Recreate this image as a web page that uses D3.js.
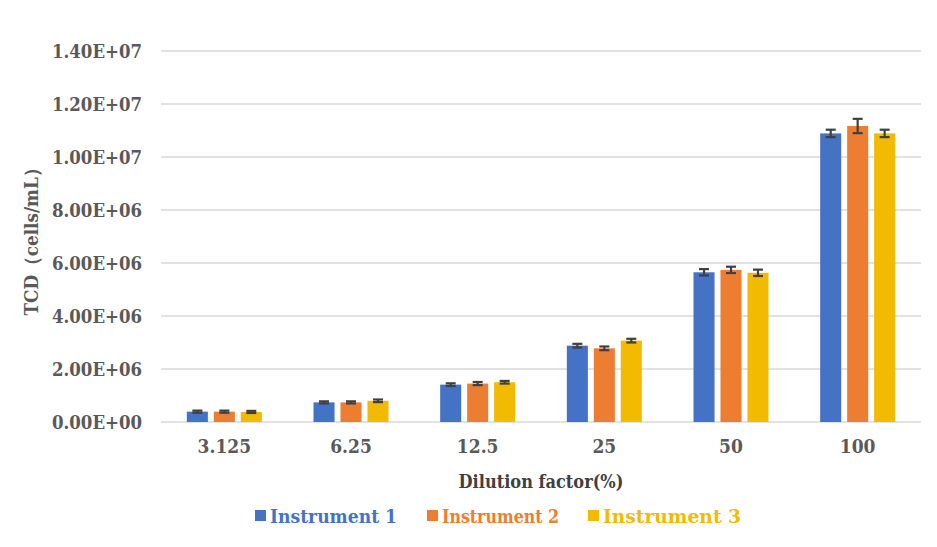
<!DOCTYPE html>
<html>
<head>
<meta charset="utf-8">
<script src="https://cdn.jsdelivr.net/npm/d3@7"></script>
<style>
  body { margin: 0; background: #fff; }
</style>
</head>
<body>
<svg id="chart" width="937" height="547"></svg>
<script>
const categories = ["3.125", "6.25", "12.5", "25", "50", "100"]
const seriesNames = ["Instrument 1", "Instrument 2", "Instrument 3"]
const instrument1 = [0.39e6, 0.74e6, 1.41e6, 2.88e6, 5.65e6, 10.89e6]
const instrument2 = [0.39e6, 0.74e6, 1.45e6, 2.78e6, 5.74e6, 11.17e6]
const instrument3 = [0.38e6, 0.80e6, 1.50e6, 3.07e6, 5.63e6, 10.89e6]
const error1 = [0.04e6, 0.04e6, 0.05e6, 0.07e6, 0.12e6, 0.14e6]
const error2 = [0.04e6, 0.04e6, 0.06e6, 0.07e6, 0.12e6, 0.27e6]
const error3 = [0.04e6, 0.05e6, 0.05e6, 0.07e6, 0.12e6, 0.14e6]
const yTicks = [0, 2e6, 4e6, 6e6, 8e6, 10e6, 12e6, 14e6]
const colors = ["#4472C4", "#ED7D31", "#F2BA00"]

const values = [instrument1, instrument2, instrument3]
const errors = [error1, error2, error3]

// serif bold, condensed so widths land near Times
const FONT = "'DejaVu Serif Condensed', 'DejaVu Serif', serif"

const svg = d3.select("#chart")
  .attr("font-family", FONT)
  .attr("font-weight", "bold")

const x = d3.scaleBand().domain(categories).range([161, 921]).padding(0)
const xs = d3.scaleBand().domain(seriesNames).range([0, 75]).paddingInner(0.22)
const y = d3.scaleLinear().domain([0, 14e6]).range([422, 51])

//gridlines
svg.append("g")
  .selectAll("line")
  .data(yTicks)
  .join("line")
  .attr("x1", 161).attr("x2", 921)
  .attr("y1", d => y(d)).attr("y2", d => y(d))
  .attr("stroke", "#d9d9d9")
  .attr("stroke-width", 1.5)

//y tick labels (scientific like Excel)
const fmt = d => {
  const e = d === 0 ? 0 : Math.floor(Math.log10(d))
  const m = d / Math.pow(10, e)
  return m.toFixed(2) + "E+" + String(e).padStart(2, "0")
}
svg.append("g")
  .selectAll("text")
  .data(yTicks)
  .join("text")
  .attr("x", 142)
  .attr("y", d => y(d) + 7)
  .attr("text-anchor", "end")
  .attr("fill", "#595959")
  .attr("font-size", 19)
  .attr("textLength", 90)
  .attr("lengthAdjust", "spacingAndGlyphs")
  .text(fmt)

//x tick labels
svg.append("g")
  .selectAll("text")
  .data(categories)
  .join("text")
  .attr("x", d => x(d) + x.bandwidth() / 2)
  .attr("y", 453)
  .attr("text-anchor", "middle")
  .attr("fill", "#595959")
  .attr("font-size", 19)
  .text(d => d)

//bars + error bars
const groupOffset = (x.bandwidth() - 75) / 2
seriesNames.forEach((name, si) => {
  const g = svg.append("g")
  const rows = categories.map((c, i) => ({c, v: values[si][i], e: errors[si][i]}))
  g.selectAll("rect")
    .data(rows)
    .join("rect")
    .attr("x", d => x(d.c) + groupOffset + xs(name))
    .attr("width", xs.bandwidth())
    .attr("y", d => y(d.v))
    .attr("height", d => y(0) - y(d.v))
    .attr("fill", colors[si])

  const cx = d => x(d.c) + groupOffset + xs(name) + xs.bandwidth() / 2
  const eb = g.selectAll("g.err").data(rows).join("g").attr("class", "err")
  eb.append("line")
    .attr("x1", cx).attr("x2", cx)
    .attr("y1", d => y(d.v + d.e)).attr("y2", d => y(d.v - d.e))
  eb.append("line")
    .attr("x1", d => cx(d) - 5).attr("x2", d => cx(d) + 5)
    .attr("y1", d => y(d.v + d.e)).attr("y2", d => y(d.v + d.e))
  eb.append("line")
    .attr("x1", d => cx(d) - 5).attr("x2", d => cx(d) + 5)
    .attr("y1", d => y(d.v - d.e)).attr("y2", d => y(d.v - d.e))
  eb.selectAll("line")
    .attr("stroke", "#404040")
    .attr("stroke-width", 2.2)
})

//axis titles
svg.append("text")
  .attr("transform", "translate(38,237) rotate(-90)")
  .attr("text-anchor", "middle")
  .attr("fill", "#595959")
  .attr("font-size", 19)
  .attr("textLength", 157)
  .attr("lengthAdjust", "spacingAndGlyphs")
  .text("TCD（cells/mL）")

svg.append("text")
  .attr("x", 541)
  .attr("y", 488)
  .attr("text-anchor", "middle")
  .attr("fill", "#404040")
  .attr("font-size", 18)
  .text("Dilution factor(%)")

//legend
const legendX = [255, 427, 588]
const legend = svg.append("g")
  .selectAll("g")
  .data(seriesNames)
  .join("g")
  .attr("transform", (d, i) => `translate(${legendX[i]},522)`)
legend.append("rect")
  .attr("x", 0).attr("y", -12)
  .attr("width", 11).attr("height", 11)
  .attr("fill", (d, i) => colors[i])
legend.append("text")
  .attr("x", 15)
  .attr("y", 1)
  .attr("fill", (d, i) => colors[i])
  .attr("font-size", 19)
  .attr("textLength", (d, i) => [127, 117, 138][i])
  .attr("lengthAdjust", "spacingAndGlyphs")
  .text(d => d)
</script>
</body>
</html>
